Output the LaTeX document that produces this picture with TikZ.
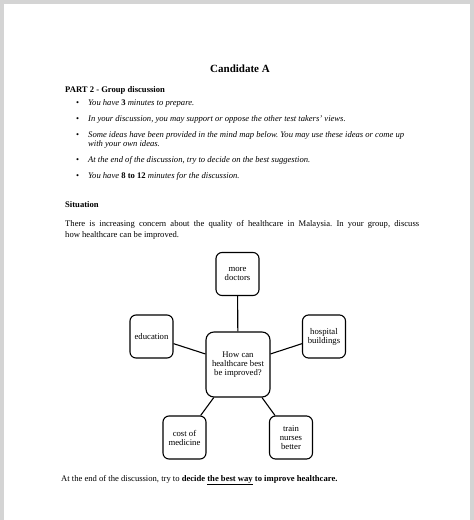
\documentclass[tikz,border=0pt]{standalone}
\usepackage{fontspec}
\setmainfont{Liberation Serif}
\usetikzlibrary{positioning}
\frenchspacing

\begin{document}
\begin{tikzpicture}[x=1pt,y=-1pt,
  every node/.style={inner sep=0pt,font=\fontsize{8.6}{10}\selectfont},
  textline/.style={anchor=base west},
  idea/.style={draw,line width=1.1pt,rounded corners=6pt,minimum width=43pt,minimum height=43pt,align=center,font=\fontsize{8.7}{9}\selectfont},
  link/.style={line width=1.1pt}]
\useasboundingbox (0,0) rectangle (474,520);
% page frame
\fill[black!17] (0,0) rectangle (474,520);
\fill[white] (4,4) rectangle (470,520);

% heading
\node [anchor=base,font=\fontsize{11}{13}\selectfont\bfseries] (Title) at (240,72) {Candidate A};
\node [textline,font=\fontsize{8.6}{10}\selectfont\bfseries] (PartTwo) at (65,92) {PART 2 - Group discussion};

% instructions
\node [textline] (DotA) at (76,105.5) {\textbullet};
\node [textline] (RuleA) at (88,105.5) {\textit{You have \textup{\textbf{3}} minutes to prepare.}};
\node [textline] (DotB) at (76,121) {\textbullet};
\node [textline] (RuleB) at (88,121) {\textit{In your discussion, you may support or oppose the other test takers' views.}};
\node [textline] (DotC) at (76,137) {\textbullet};
\node [textline] (RuleC) at (88,137) {\textit{Some ideas have been provided in the mind map below. You may use these ideas or come up}};
\node [textline] (RuleCMore) at (88,146.5) {\textit{with your own ideas.}};
\node [textline] (DotD) at (76,162) {\textbullet};
\node [textline] (RuleD) at (88,162) {\textit{At the end of the discussion, try to decide on the best suggestion.}};
\node [textline] (DotE) at (76,178) {\textbullet};
\node [textline] (RuleE) at (88,178) {\textit{You have \textup{\textbf{8 to 12}} minutes for the discussion.}};

% situation
\node [textline,font=\fontsize{8.6}{10}\selectfont\bfseries] (Situation) at (65,207.5) {Situation};
\node [textline] (SituationA) at (65,226) {\makebox[354pt][s]{There is increasing concern about the quality of healthcare in Malaysia. In your group, discuss}};
\node [textline] (SituationB) at (65,237.5) {how healthcare can be improved.};

% mind map
\node [idea,minimum width=64pt,minimum height=65pt,rounded corners=8pt] (Question) at (238,364.5) {How can\\healthcare best\\be improved?};
\node [idea] (MoreDoctors) at (237.5,274) {more\\doctors};
\node [idea] (Education) at (151.5,336.5) {education};
\node [idea] (Hospital) at (324,336.5) {hospital\\buildings};
\node [idea] (Medicine) at (184.5,437.5) {cost of\\medicine};
\node [idea] (Nurses) at (291,437.5) {train\\nurses\\better};
\draw [link] (Question) -- (MoreDoctors);
\draw [link] (Question) -- (Education);
\draw [link] (Question) -- (Hospital);
\draw [link] (Question) -- (Medicine);
\draw [link] (Question) -- (Nurses);

\node [textline] (EndNote) at (61,481) {At the end of the discussion, try to \textbf{decide \underline{the best way} to improve healthcare.}};
\end{tikzpicture}
\end{document}
